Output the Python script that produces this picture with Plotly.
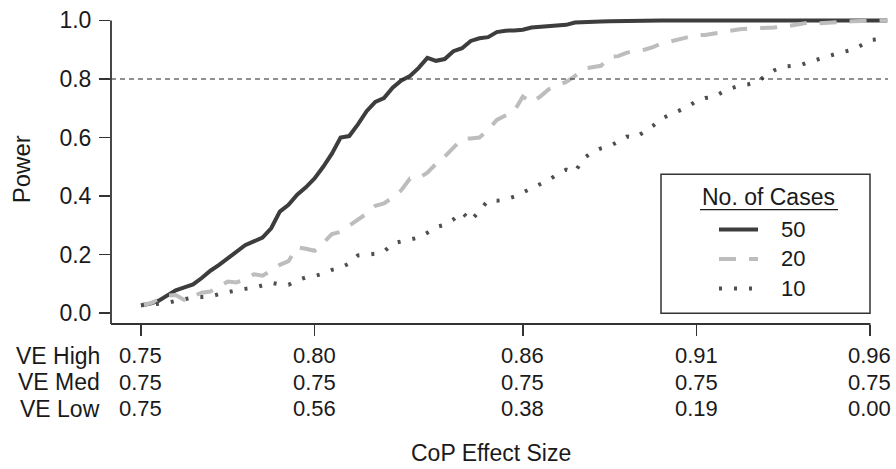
import plotly.graph_objects as go

# ---------------- data ----------------
ve_high = [
    0.7500, 0.7525, 0.7550, 0.7575, 0.7600, 0.7625, 0.7650, 0.7675, 0.7700, 0.7725,
    0.7750, 0.7775, 0.7800, 0.7825, 0.7850, 0.7875, 0.7900, 0.7925, 0.7950, 0.7975,
    0.8000, 0.8025, 0.8050, 0.8075, 0.8100, 0.8125, 0.8150, 0.8175, 0.8200, 0.8225,
    0.8250, 0.8275, 0.8300, 0.8325, 0.8350, 0.8375, 0.8400, 0.8425, 0.8450, 0.8475,
    0.8500, 0.8525, 0.8550, 0.8575, 0.8600, 0.8625, 0.8650, 0.8675, 0.8700, 0.8725,
    0.8750, 0.8775, 0.8800, 0.8825, 0.8850, 0.8875, 0.8900, 0.8925, 0.8950, 0.8975,
    0.9000, 0.9025, 0.9050, 0.9075, 0.9100, 0.9125, 0.9150, 0.9175, 0.9200, 0.9225,
    0.9250, 0.9275, 0.9300, 0.9325, 0.9350, 0.9375, 0.9400, 0.9425, 0.9450, 0.9475,
    0.9500, 0.9525, 0.9550, 0.9575, 0.9600, 0.9625, 0.9650,
]

power_50 = [
    0.027, 0.032, 0.042, 0.060, 0.078, 0.088, 0.098, 0.120, 0.145, 0.165,
    0.188, 0.210, 0.232, 0.245, 0.258, 0.290, 0.347, 0.370, 0.405, 0.430,
    0.460, 0.500, 0.545, 0.600, 0.605, 0.645, 0.690, 0.722, 0.735, 0.770,
    0.795, 0.810, 0.838, 0.872, 0.862, 0.868, 0.895, 0.905, 0.930, 0.939,
    0.943, 0.960, 0.965, 0.966, 0.968, 0.976, 0.978, 0.982, 0.983, 0.985,
    0.993, 0.993, 0.995, 0.996, 0.997, 0.998, 0.999, 1.000, 1.000, 1.000,
    1.000, 1.000, 1.000, 1.000, 1.000, 1.000, 1.000, 1.000, 1.000, 1.000,
    1.000, 1.000, 1.000, 1.000, 1.000, 1.000, 1.000, 1.000, 1.000, 1.000,
    1.000, 1.000, 1.000, 1.000, 1.000, 1.000, 1.000,
]

power_20 = [
    0.027, 0.033, 0.045, 0.060, 0.062, 0.045, 0.058, 0.070, 0.074, 0.090,
    0.108, 0.105, 0.115, 0.133, 0.128, 0.145, 0.165, 0.178, 0.225, 0.220,
    0.213, 0.240, 0.270, 0.278, 0.298, 0.320, 0.340, 0.367, 0.375, 0.395,
    0.420, 0.460, 0.461, 0.480, 0.510, 0.535, 0.565, 0.595, 0.597, 0.600,
    0.626, 0.660, 0.675, 0.690, 0.740, 0.720, 0.740, 0.765, 0.778, 0.790,
    0.810, 0.835, 0.840, 0.845, 0.875, 0.878, 0.890, 0.895, 0.900, 0.909,
    0.922, 0.928, 0.935, 0.940, 0.950, 0.950, 0.955, 0.962, 0.965, 0.970,
    0.972, 0.973, 0.973, 0.976, 0.982, 0.983, 0.988, 0.993, 0.990, 0.992,
    0.996, 0.997, 0.997, 0.998, 0.999, 1.000, 1.000,
]

power_10 = [
    0.027, 0.030, 0.032, 0.035, 0.042, 0.048, 0.053, 0.055, 0.057, 0.065,
    0.073, 0.078, 0.083, 0.087, 0.095, 0.104, 0.098, 0.097, 0.112, 0.122,
    0.127, 0.135, 0.148, 0.155, 0.170, 0.197, 0.200, 0.203, 0.210, 0.238,
    0.245, 0.250, 0.258, 0.275, 0.294, 0.302, 0.320, 0.345, 0.315, 0.350,
    0.385, 0.384, 0.388, 0.398, 0.412, 0.425, 0.440, 0.455, 0.475, 0.490,
    0.482, 0.528, 0.550, 0.563, 0.570, 0.585, 0.603, 0.600, 0.620, 0.640,
    0.665, 0.678, 0.692, 0.705, 0.725, 0.735, 0.738, 0.755, 0.768, 0.778,
    0.782, 0.790, 0.812, 0.830, 0.842, 0.844, 0.847, 0.858, 0.868, 0.875,
    0.885, 0.893, 0.900, 0.915, 0.933, 0.936, 0.940,
]

tick_ve_high = [0.75, 0.80, 0.86, 0.91, 0.96]
tick_ve_high_lbl = ["0.75", "0.80", "0.86", "0.91", "0.96"]
tick_ve_med_lbl = ["0.75", "0.75", "0.75", "0.75", "0.75"]
tick_ve_low_lbl = ["0.75", "0.56", "0.38", "0.19", "0.00"]
row_labels = ["VE High", "VE Med", "VE Low"]
y_ticks = [0.0, 0.2, 0.4, 0.6, 0.8, 1.0]
target_power = 0.8
case_labels = ["50", "20", "10"]
legend_title = "No. of Cases"

# ---------------- layout geometry ----------------
W, H = 896, 469
L, R, T, B = 111, 888, 11.5, 324
FONT = "Liberation Sans, Arial, Helvetica, sans-serif"
TXT = "#1a1a1a"
AX = "#333333"
FS = 23      # label font size
FT = 22      # tick font size


def pxx(x):
    return (x - L) / (R - L)


def pxy(y):
    return (B - y) / (B - T)


styles = {
    "50": dict(color="#3d3d3d", width=4, dash="solid"),
    "20": dict(color="#bdbdbd", width=4, dash="17px,13px"),
    "10": dict(color="#4f4f4f", width=4, dash="3px,12px"),
}

fig = go.Figure()
for lbl, ys in zip(case_labels, [power_50, power_20, power_10]):
    fig.add_trace(go.Scatter(
        x=ve_high, y=ys, mode="lines", name=lbl,
        line=dict(color=styles[lbl]["color"], width=styles[lbl]["width"],
                  dash=styles[lbl]["dash"]),
        showlegend=False, hoverinfo="skip",
    ))

shapes = []
annotations = []

# reference line at 0.8
shapes.append(dict(type="line", xref="paper", yref="y", x0=0, x1=1,
                   y0=target_power, y1=target_power,
                   line=dict(color="#222222", width=1.2, dash="5px,4px")))
# axis lines (L-shaped)
shapes.append(dict(type="line", xref="paper", yref="paper",
                   x0=0, x1=pxx(870.5), y0=0, y1=0,
                   line=dict(color=AX, width=1.8)))
shapes.append(dict(type="line", xref="paper", yref="paper",
                   x0=0, x1=0, y0=0, y1=pxy(16),
                   line=dict(color=AX, width=1.8)))

# three rows of x tick labels + row names
row_y = [356, 383, 410]
for lab, yy, texts in zip(row_labels, row_y,
                          [tick_ve_high_lbl, tick_ve_med_lbl, tick_ve_low_lbl]):
    annotations.append(dict(text=lab, xref="paper", yref="paper",
                            x=pxx(102), y=pxy(yy), xanchor="right", yanchor="middle",
                            showarrow=False, font=dict(size=FS, color=TXT, family=FONT)))
    for tv, tt in zip(tick_ve_high, texts):
        annotations.append(dict(text=tt, xref="x", yref="paper",
                                x=tv, y=pxy(yy), xanchor="center", yanchor="middle",
                                showarrow=False,
                                font=dict(size=FT, color=TXT, family=FONT)))

# axis titles
annotations.append(dict(text="CoP Effect Size", xref="paper", yref="paper",
                        x=pxx(490.5), y=pxy(455), xanchor="center", yanchor="middle",
                        showarrow=False, font=dict(size=FS, color=TXT, family=FONT)))
annotations.append(dict(text="Power", xref="paper", yref="paper",
                        x=pxx(21), y=pxy(167), xanchor="center", yanchor="middle",
                        textangle=-90, showarrow=False,
                        font=dict(size=FS + 1, color=TXT, family=FONT)))

# legend box
shapes.append(dict(type="rect", xref="paper", yref="paper",
                   x0=pxx(661), x1=pxx(870), y0=pxy(313), y1=pxy(172),
                   line=dict(color=AX, width=1.5), fillcolor="white", layer="above"))
annotations.append(dict(text=legend_title, xref="paper", yref="paper",
                        x=pxx(768.5), y=pxy(195), xanchor="center", yanchor="middle",
                        showarrow=False, font=dict(size=FS, color=TXT, family=FONT)))
shapes.append(dict(type="line", xref="paper", yref="paper",
                   x0=pxx(700), x1=pxx(838), y0=pxy(208), y1=pxy(208),
                   line=dict(color=TXT, width=1.3), layer="above"))
leg_y = [228, 258, 288]
for lbl, yy in zip(case_labels, leg_y):
    st = styles[lbl]
    shapes.append(dict(type="line", xref="paper", yref="paper",
                       x0=pxx(719), x1=pxx(758), y0=pxy(yy), y1=pxy(yy),
                       line=dict(color=st["color"], width=st["width"], dash=st["dash"]),
                       layer="above"))
    annotations.append(dict(text=lbl, xref="paper", yref="paper",
                            x=pxx(779), y=pxy(yy), xanchor="left", yanchor="middle",
                            showarrow=False, font=dict(size=FT, color=TXT, family=FONT)))

fig.update_layout(
    width=W, height=H,
    margin=dict(l=L, r=W - R, t=T, b=H - B, pad=0),
    paper_bgcolor="white", plot_bgcolor="white",
    font=dict(family=FONT, color=TXT, size=FT),
    hovermode=False,
    xaxis=dict(range=[0.74136, 0.96521], showgrid=False, zeroline=False,
               showline=False, tickmode="array", tickvals=tick_ve_high,
               showticklabels=False, ticks="outside", ticklen=11, tickwidth=1.5,
               tickcolor=AX, fixedrange=True),
    yaxis=dict(range=[-0.037, 1.01515], showgrid=False, zeroline=False,
               showline=False, tickmode="array", tickvals=y_ticks,
               ticktext=[f"{v:.1f}" for v in y_ticks], ticks="outside", ticklen=11,
               tickwidth=1.5, tickcolor=AX,
               tickfont=dict(size=FT + 1, color=TXT, family=FONT),
               ticklabelstandoff=3, fixedrange=True),
    shapes=shapes, annotations=annotations,
)

fig.write_html("out.html",
               config={"displayModeBar": False, "staticPlot": True},
               post_script="document.body.style.margin='0px';"
                           "document.body.style.padding='0px';")
